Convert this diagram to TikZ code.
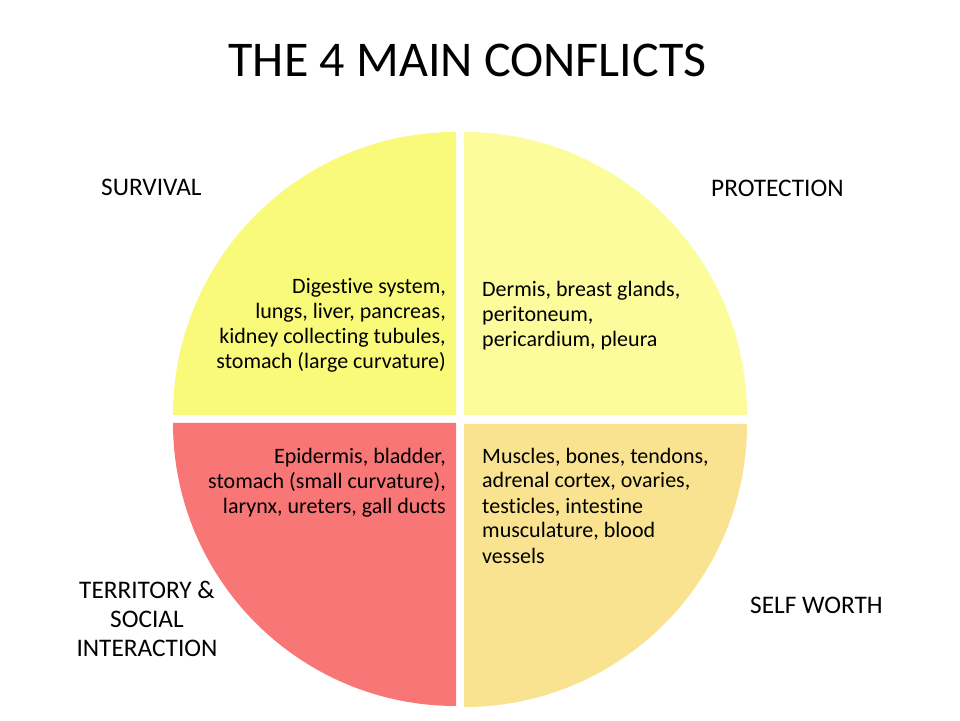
\documentclass[tikz,border=0pt]{standalone}
\usepackage{fontspec}
\setmainfont{Carlito}[Ligatures={NoCommon}]
\definecolor{qtl}{RGB}{250,250,122}
\definecolor{qtr}{RGB}{252,252,156}
\definecolor{qbl}{RGB}{248,118,118}
\definecolor{qbr}{RGB}{249,227,145}
\tikzset{
  quarter/.style={draw=none},
  body/.style={inner sep=0pt, font=\fontsize{22}{25}\selectfont},
  label/.style={inner sep=0pt, font=\fontsize{25.3}{29}\selectfont},
}
\begin{document}
\begin{tikzpicture}[x=1pt,y=1pt]
\useasboundingbox (0,0) rectangle (960,720);
\fill[white] (0,0) rectangle (960,720);
% quarters
\fill[qtl,quarter] (456,305) -- (173,305) arc[start angle=180,end angle=90,radius=283] -- cycle;
\fill[qtr,quarter] (464,305) -- (464,588) arc[start angle=90,end angle=0,radius=283] -- cycle;
\fill[qbl,quarter] (456,297) -- (456,14) arc[start angle=270,end angle=180,radius=283] -- cycle;
\fill[qbr,quarter] (464,296) -- (747,296) arc[start angle=0,end angle=-90,radius=283] -- cycle;
% title
\node[inner sep=0pt, anchor=base, font=\fontsize{50}{60}\selectfont] (title) at (467.5,643) {THE 4 MAIN CONFLICTS};
% body texts (base anchor = baseline of last line)
\node[body, anchor=base east, align=right] (tltext) at (446,351) {Digestive system,\\lungs, liver, pancreas,\\kidney collecting tubules,\\stomach (large curvature)};
\node[body, anchor=base west, align=left] (trtext) at (482,373) {Dermis, breast glands,\\peritoneum,\\pericardium, pleura};
\node[body, anchor=base east, align=right] (bltext) at (446,206) {Epidermis, bladder,\\stomach (small curvature),\\larynx, ureters, gall ducts};
\node[body, anchor=base west, align=left] (brtext) at (482,157) {Muscles, bones, tendons,\\adrenal cortex, ovaries,\\testicles, intestine\\musculature, blood\\vessels};
% labels
\node[label, anchor=base west] (survival) at (101,524) {SURVIVAL};
\node[label, anchor=base west] (protection) at (711,523) {PROTECTION};
\node[label, anchor=base west] (selfworth) at (750,107) {SELF WORTH};
\node[label, anchor=base, align=center] (territory) at (147,64) {TERRITORY \&\\SOCIAL\\INTERACTION};
\end{tikzpicture}
\end{document}
